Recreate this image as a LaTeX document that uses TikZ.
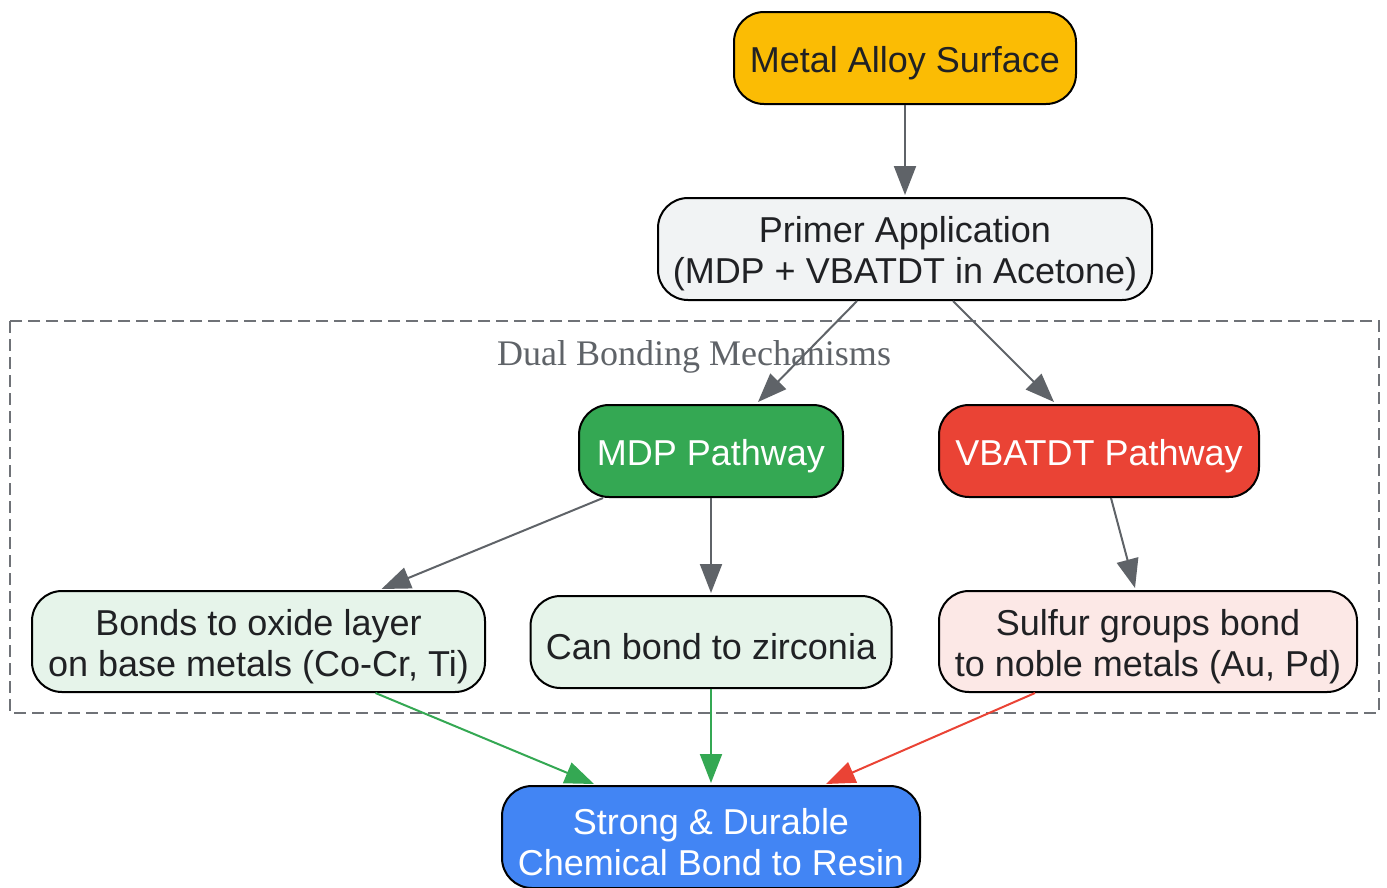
\documentclass[tikz,border=0pt]{standalone}
\usepackage{fontspec}
\setmainfont{Liberation Sans}
\newfontfamily\clusterfont{Liberation Serif}
\usetikzlibrary{arrows.meta,calc}
\definecolor{cyellow}{HTML}{FBBC04}
\definecolor{cgray}{HTML}{F1F3F4}
\definecolor{cgreen}{HTML}{34A853}
\definecolor{cred}{HTML}{EA4335}
\definecolor{cblue}{HTML}{4285F4}
\definecolor{lgreen}{HTML}{E6F4EA}
\definecolor{lred}{HTML}{FCE8E6}
\definecolor{edgegray}{HTML}{5F6368}
\definecolor{textdark}{HTML}{202124}
\begin{document}
\begin{tikzpicture}[x=1pt,y=-1pt,
  box/.style={draw=black,line width=2pt,rounded corners=30pt,inner sep=0pt},
  txt/.style={align=center,font=\fontsize{36}{41}\selectfont,text=textdark,inner sep=0pt},
  wtxt/.style={txt,text=white},
  edge/.style={line width=2pt,draw=edgegray,-{Triangle[length=29pt,width=22pt]}},
  gedge/.style={edge,draw=cgreen,fill=cgreen},
  redge/.style={edge,draw=cred,fill=cred}]
\useasboundingbox (0,0) rectangle (1387,887);
\draw[edgegray!90,line width=2pt,dash pattern=on 12pt off 6pt] (10,321) rectangle (1379,713);
\node[text=edgegray,font=\clusterfont\fontsize{36}{42}\selectfont] (cl) at (694,357) {Dual Bonding Mechanisms};
\node[box,fill=cyellow,minimum width=342pt,minimum height=92pt] (metal) at (905,58) {};
\node[txt] (metal-t) at ($(metal.center)+(0,5)$) {Metal Alloy Surface};
\node[box,fill=cgray,minimum width=494pt,minimum height=102pt] (primer) at (905,249) {};
\node[txt] (primer-t) at ($(primer.center)+(0,5)$) {Primer Application\\(MDP + VBATDT in Acetone)};
\node[box,fill=cgreen,minimum width=264pt,minimum height=92pt] (mdp) at (711,451) {};
\node[wtxt] (mdp-t) at ($(mdp.center)+(0,5)$) {MDP Pathway};
\node[box,fill=cred,minimum width=320pt,minimum height=92pt] (vba) at (1099,451) {};
\node[wtxt] (vba-t) at ($(vba.center)+(0,5)$) {VBATDT Pathway};
\node[box,fill=lgreen,minimum width=453pt,minimum height=101pt] (oxide) at (258.5,641.5) {};
\node[txt] (oxide-t) at ($(oxide.center)+(0,5)$) {Bonds to oxide layer\\on base metals (Co-Cr, Ti)};
\node[box,fill=lgreen,minimum width=361pt,minimum height=92pt] (zirc) at (711,642) {};
\node[txt] (zirc-t) at ($(zirc.center)+(0,5)$) {Can bond to zirconia};
\node[box,fill=lred,minimum width=418pt,minimum height=101pt] (sulf) at (1148,641.5) {};
\node[txt] (sulf-t) at ($(sulf.center)+(0,5)$) {Sulfur groups bond\\to noble metals (Au, Pd)};
\node[box,fill=cblue,minimum width=418pt,minimum height=102pt] (res) at (711,837) {};
\node[wtxt] (res-t) at ($(res.center)+(0,5)$) {Strong \& Durable\\Chemical Bond to Resin};
\draw[edge] (metal.south) -- ($(primer.north)+(0,-2)$);
\draw[edge] ($(primer.south)+(-48,0)$) -- ($(mdp.north)+(47,-2)$);
\draw[edge] ($(primer.south)+(48,0)$) -- ($(vba.north)+(-45,-2)$);
\draw[edge] ($(mdp.south)+(-108,0)$) -- ($(oxide.north)+(123,-1)$);
\draw[edge] (mdp.south) -- ($(zirc.north)+(0,-2)$);
\draw[edge] ($(vba.south)+(12,0)$) -- ($(sulf.north)+(-13,-2)$);
\draw[gedge] ($(oxide.south)+(117,0)$) -- ($(res.north)+(-117,-1)$);
\draw[gedge] (zirc.south) -- ($(res.north)+(0,-2)$);
\draw[redge] ($(sulf.south)+(-113,0)$) -- ($(res.north)+(115,-1)$);
\end{tikzpicture}
\end{document}
